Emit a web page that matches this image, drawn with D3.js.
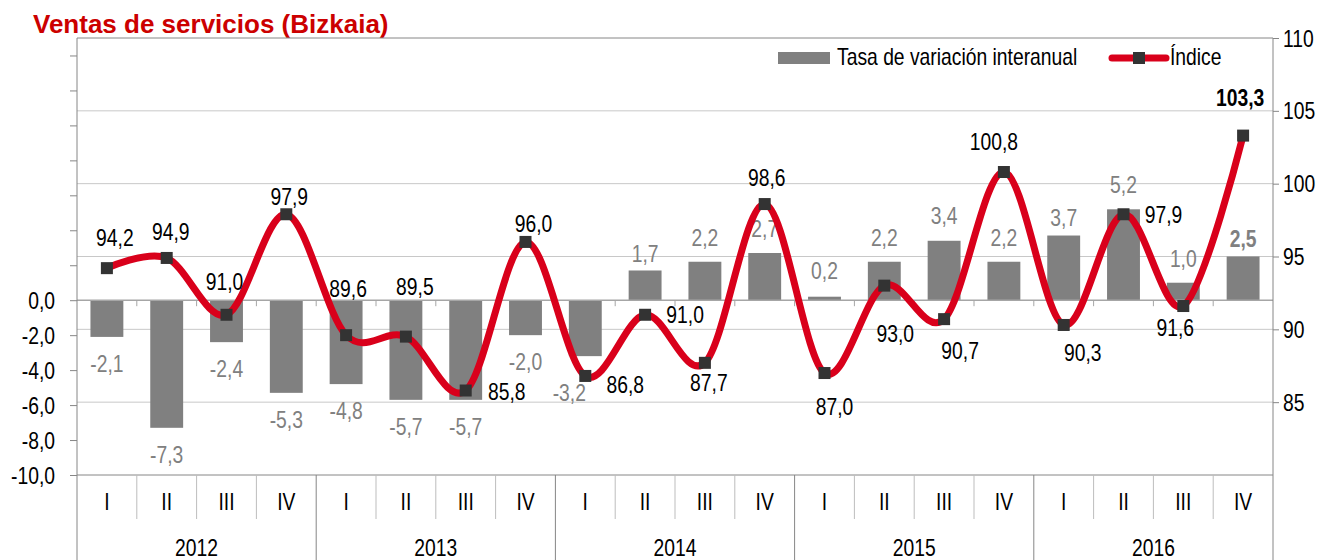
<!DOCTYPE html>
<html>
<head>
<meta charset="utf-8">
<script src="https://cdn.jsdelivr.net/npm/d3@7"></script>
<style>
  body { margin: 0; background: #fff; }
</style>
</head>
<body>
<div class="chart"></div>
<script>
const years = ['2012', '2013', '2014', '2015', '2016'];
const quarters = ['I', 'II', 'III', 'IV'];

// tasa de variacion interanual (%), left axis
const tasa = [
  -2.1, -7.3, -2.4, -5.3,
  -4.8, -5.7, -5.7, -2.0,
  -3.2, 1.7, 2.2, 2.7,
  0.2, 2.2, 3.4, 2.2,
  3.7, 5.2, 1.0, 2.5,
];

// indice, right axis
const indice = [
  94.2, 94.9, 91.0, 97.9,
  89.6, 89.5, 85.8, 96.0,
  86.8, 91.0, 87.7, 98.6,
  87.0, 93.0, 90.7, 100.8,
  90.3, 97.9, 91.6, 103.3,
];

const leftTicks = d3.range(-10, 15, 2);
const rightTicks = [85, 90, 95, 100, 105, 110];

// label placement tweaks (dx centre, dy baseline) relative to the default spot
const tasaLabelNudge = [
  [0, 0], [0, 0], [0, 0], [0, 0],
  [0, 0], [0, 0], [0, 0], [0, 0],
  [-16, 10], [0, 8], [0, 0], [0, 0],
  [0, -2], [0, 0], [0, -1], [0, 0],
  [0, 6], [0, 0], [0, 0], [0, 6],
];

// where each indice label sits relative to its marker (dx centre, dy baseline)
const indiceLabelOffset = [
  [8, -22], [4, -18], [-2, -25], [3, -9],
  [2, -38], [9, -42], [41, 9], [8, -10],
  [40, 17], [40, 8], [4, 28], [2, -18],
  [10, 42], [11, 56], [16, 40], [-10, -22],
  [19, 36], [40, 9], [-8, 30], [-3, -30],
];

const FONT = "'Liberation Sans', Arial, Helvetica, sans-serif";
const SX = 0.84; // narrow look of the original labels

function fmt(v) {
  return v.toFixed(1).replace('.', ',');
}

function drawChart() {
  const W = 1329,
    H = 560;
  const margin = { top: 38, right: 56, bottom: 85, left: 77 };
  const left = margin.left,
    right = W - margin.right,
    top = margin.top,
    bottom = H - margin.bottom;

  const periods = d3.cross(years, quarters).map(([y, q]) => y + '-' + q);

  const x = d3.scaleBand().domain(periods).range([left, right]);
  const bw = x.bandwidth();
  const barW = bw * 0.55;
  const cx = (i) => x(periods[i]) + bw / 2;

  const yBar = d3.scaleLinear().domain([-10, 15]).range([bottom, top]);
  const yIdx = d3.scaleLinear().domain([80, 110]).range([bottom, top]);

  const svg = d3
    .select('.chart')
    .append('svg')
    .attr('width', W)
    .attr('height', H)
    .style('font-family', FONT);

  // title
  svg
    .append('text')
    .attr('x', 33)
    .attr('y', 33)
    .attr('fill', '#cc0000')
    .attr('font-weight', 'bold')
    .attr('font-size', 26)
    .text('Ventas de servicios (Bizkaia)');

  // gridlines (right axis)
  svg
    .append('g')
    .selectAll('line')
    .data(rightTicks.filter((t) => t < 110))
    .enter()
    .append('line')
    .attr('x1', left)
    .attr('x2', right)
    .attr('y1', (d) => yIdx(d))
    .attr('y2', (d) => yIdx(d))
    .attr('stroke', '#c8c8c8')
    .attr('stroke-width', 1);

  // top border
  svg
    .append('line')
    .attr('x1', left)
    .attr('x2', right)
    .attr('y1', top)
    .attr('y2', top)
    .attr('stroke', '#868686');

  // bars
  svg
    .append('g')
    .selectAll('rect')
    .data(tasa)
    .enter()
    .append('rect')
    .attr('x', (d, i) => cx(i) - barW / 2)
    .attr('width', barW)
    .attr('y', (d) => yBar(Math.max(0, d)))
    .attr('height', (d) => Math.abs(yBar(d) - yBar(0)))
    .attr('fill', '#808080');

  // zero line with small ticks between categories
  const y0 = yBar(0);
  svg
    .append('line')
    .attr('x1', left)
    .attr('x2', right)
    .attr('y1', y0)
    .attr('y2', y0)
    .attr('stroke', '#a6a6a6')
    .attr('stroke-width', 1.5);
  svg
    .append('g')
    .selectAll('line')
    .data(periods.slice(1))
    .enter()
    .append('line')
    .attr('x1', (d) => x(d))
    .attr('x2', (d) => x(d))
    .attr('y1', y0)
    .attr('y2', y0 + 6)
    .attr('stroke', '#a6a6a6');

  // left axis
  const gl = svg
    .append('g')
    .attr('transform', `translate(${left},0)`)
    .call(
      d3
        .axisLeft(yBar)
        .tickValues(leftTicks)
        .tickSize(7)
        .tickSizeOuter(0)
        .tickPadding(15)
        .tickFormat((v) => (v <= 0 ? fmt(v) : ''))
    );
  gl.select('.domain').remove();
  gl.selectAll('line').attr('stroke', '#868686');
  gl.selectAll('text')
    .attr('font-family', FONT)
    .attr('font-size', 23)
    .attr('fill', '#000')
    .attr('transform', `scale(${SX},1)`)
    .attr('x', -22 / SX)
    .attr('dy', '0.35em');
  svg
    .append('line')
    .attr('x1', left)
    .attr('x2', left)
    .attr('y1', top)
    .attr('y2', H)
    .attr('stroke', '#868686');

  // right axis
  const gr = svg
    .append('g')
    .attr('transform', `translate(${right},0)`)
    .call(
      d3
        .axisRight(yIdx)
        .tickValues(rightTicks)
        .tickSize(6)
        .tickSizeOuter(0)
        .tickPadding(4)
        .tickFormat(d3.format('d'))
    );
  gr.select('.domain').remove();
  gr.selectAll('line').attr('stroke', '#868686');
  gr.selectAll('text')
    .attr('font-family', FONT)
    .attr('font-size', 23)
    .attr('fill', '#000')
    .attr('transform', `scale(${SX},1)`)
    .attr('x', 10 / SX)
    .attr('dy', '0.35em');
  svg
    .append('line')
    .attr('x1', right)
    .attr('x2', right)
    .attr('y1', top)
    .attr('y2', H)
    .attr('stroke', '#868686');

  // category axis
  svg
    .append('line')
    .attr('x1', left)
    .attr('x2', right)
    .attr('y1', bottom)
    .attr('y2', bottom)
    .attr('stroke', '#868686');
  svg
    .append('g')
    .selectAll('line')
    .data(periods.slice(1))
    .enter()
    .append('line')
    .attr('x1', (d) => x(d))
    .attr('x2', (d) => x(d))
    .attr('y1', bottom)
    .attr('y2', (d, i) => ((i + 1) % 4 === 0 ? H : bottom + 44))
    .attr('stroke', (d, i) => ((i + 1) % 4 === 0 ? '#868686' : '#bdbdbd'));

  svg
    .append('g')
    .selectAll('text')
    .data(periods)
    .enter()
    .append('text')
    .attr('transform', (d, i) => `translate(${cx(i)},${bottom + 35}) scale(${SX},1)`)
    .attr('text-anchor', 'middle')
    .attr('font-size', 23)
    .text((d) => d.split('-')[1]);

  svg
    .append('g')
    .selectAll('text')
    .data(years)
    .enter()
    .append('text')
    .attr('transform', (d) => `translate(${x(d + '-II') + bw},${H - 4}) scale(${SX},1)`)
    .attr('text-anchor', 'middle')
    .attr('font-size', 23)
    .text((d) => d);

  // bar labels
  svg
    .append('g')
    .selectAll('text')
    .data(tasa)
    .enter()
    .append('text')
    .attr('transform', (d, i) => {
      const [dx, dy] = tasaLabelNudge[i];
      const ty = (d >= 0 ? yBar(d) - 16 : yBar(d) + 35) + dy;
      return `translate(${cx(i) + dx},${ty}) scale(${SX},1)`;
    })
    .attr('text-anchor', 'middle')
    .attr('font-size', 23)
    .attr('fill', '#808080')
    .attr('font-weight', (d, i) => (i === tasa.length - 1 ? 'bold' : 'normal'))
    .text((d) => fmt(d));

  // indice line
  const line = d3
    .line()
    .x((d, i) => cx(i))
    .y((d) => yIdx(d))
    .curve(d3.curveCardinal.tension(0));
  svg
    .append('path')
    .datum(indice)
    .attr('d', line)
    .attr('fill', 'none')
    .attr('stroke', '#d9001b')
    .attr('stroke-width', 7)
    .attr('stroke-linejoin', 'round');

  svg
    .append('g')
    .selectAll('rect')
    .data(indice)
    .enter()
    .append('rect')
    .attr('x', (d, i) => cx(i) - 6)
    .attr('y', (d) => yIdx(d) - 6)
    .attr('width', 12)
    .attr('height', 12)
    .attr('fill', '#333');

  svg
    .append('g')
    .selectAll('text')
    .data(indice)
    .enter()
    .append('text')
    .attr('transform', (d, i) => {
      const [dx, dy] = indiceLabelOffset[i];
      return `translate(${cx(i) + dx},${yIdx(d) + dy}) scale(${SX},1)`;
    })
    .attr('text-anchor', 'middle')
    .attr('font-size', 23)
    .attr('fill', '#000')
    .attr('font-weight', (d, i) => (i === indice.length - 1 ? 'bold' : 'normal'))
    .text((d) => fmt(d));

  // legend
  const lg = svg.append('g');
  lg.append('rect')
    .attr('x', 778)
    .attr('y', 52)
    .attr('width', 52)
    .attr('height', 12)
    .attr('fill', '#808080');
  lg.append('text')
    .attr('transform', `translate(837,65) scale(${SX},1)`)
    .attr('font-size', 23)
    .text('Tasa de variación interanual');
  lg.append('line')
    .attr('x1', 1112)
    .attr('x2', 1166)
    .attr('y1', 58)
    .attr('y2', 58)
    .attr('stroke', '#d9001b')
    .attr('stroke-width', 7)
    .attr('stroke-linecap', 'round');
  lg.append('rect')
    .attr('x', 1133)
    .attr('y', 52)
    .attr('width', 12)
    .attr('height', 12)
    .attr('fill', '#333');
  lg.append('text')
    .attr('transform', `translate(1170,65) scale(${SX},1)`)
    .attr('font-size', 23)
    .text('Índice');
}

drawChart();
</script>
</body>
</html>
